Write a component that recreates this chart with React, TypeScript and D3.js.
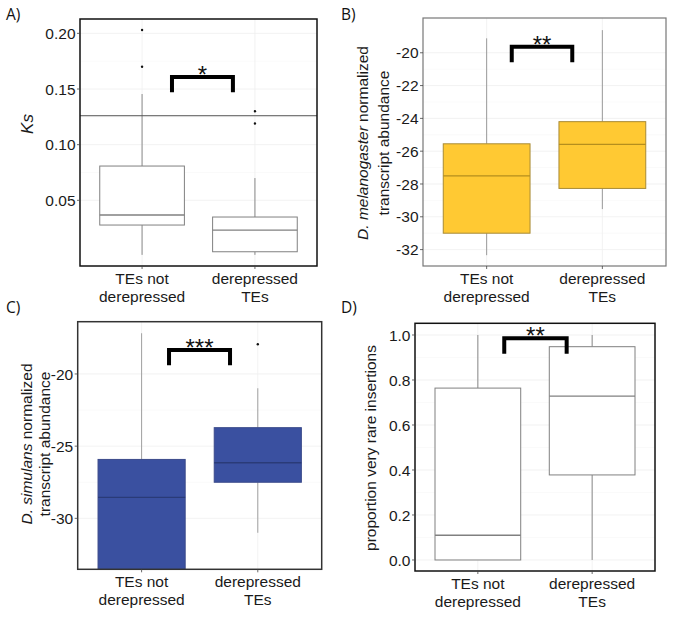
import React from "react";
import * as d3 from "d3";

// ---------- data ----------
const categories = [["TEs not", "derepressed"], ["derepressed", "TEs"]];

// [lowerWhisker, q1, median, q3, upperWhisker]
const ksStats = [
  [0.001, 0.0278, 0.0368, 0.0808, 0.1455],
  [0.001, 0.0038, 0.0233, 0.035, 0.07],
];
const ksOutliers = [[0.203, 0.17], [0.13, 0.119]];
const ksTicks = [0.05, 0.1, 0.15, 0.2];
const ksRefLine = 0.126;

const melStats = [
  [-32.34, -31.0, -27.5, -25.55, -19.12],
  [-29.53, -28.27, -25.59, -24.2, -18.62],
];
const melTicks = [-32, -30, -28, -26, -24, -22, -20];

const simStats = [
  [-36, -34.5, -28.55, -25.92, -17.18],
  [-31.0, -27.5, -26.15, -23.72, -20.99],
];
const simOutliers = [[], [-17.94]];
const simTicks = [-30, -25, -20];

const rareStats = [
  [0, 0, 0.11, 0.764, 1.0],
  [0, 0.378, 0.728, 0.948, 1.0],
];
const rareTicks = [0, 0.2, 0.4, 0.6, 0.8, 1.0];

// significance brackets: [x1, x2 (category units), top, legBottom]
const ksBracket = [1.265, 1.805, 0.1608, 0.149];
const melBracket = [1.217, 1.74, -19.63, -20.45];
const simBracket = [1.236, 1.761, -18.34, -19.26];
const rareBracket = [1.231, 1.777, 0.985, 0.926];

type PanelProps = {
  id: string;
  label: string;
  labelX: number;
  labelY: number;
  left: number;
  right: number;
  top: number;
  bottom: number;
  domain: [number, number];
  ticks: number[];
  tickFmt: (v: number) => string;
  stats: number[][];
  outliers?: number[][];
  refLine?: number;
  bracket: number[];
  stars: string;
  fill: string;
  stroke: string;
  medianStroke: string;
  whiskerStroke: string;
  frameStroke: string;
  frameWidth: number;
  titleLines: React.ReactNode[];
  titleX: number[];
  titleY: number;
};

const FONT = "'Liberation Sans', Arial, sans-serif";

function Panel(p: PanelProps) {
  const x = d3.scaleLinear().domain([0.45, 2.55]).range([p.left, p.right]);
  const y = d3.scaleLinear().domain(p.domain).range([p.bottom, p.top]);
  const bw = x(1.375) - x(1);
  const minorTicks = p.ticks.slice(0, -1).map((t, i) => (t + p.ticks[i + 1]) / 2);
  const clipId = "clip-" + p.id;
  return (
    <g>
      <text x={p.labelX} y={p.labelY} fontFamily="'Open Sans', sans-serif" fontSize={15.5} fill="#111">
        {p.label}
      </text>
      <defs>
        <clipPath id={clipId}>
          <rect x={p.left} y={p.top} width={p.right - p.left} height={p.bottom - p.top} />
        </clipPath>
      </defs>
      <g clipPath={`url(#${clipId})`}>
        {minorTicks.map((t, i) => (
          <line key={"mn" + i} x1={p.left} x2={p.right} y1={y(t)} y2={y(t)} stroke="#f6f6f6" strokeWidth={0.6} />
        ))}
        {p.ticks.map((t, i) => (
          <line key={"mj" + i} x1={p.left} x2={p.right} y1={y(t)} y2={y(t)} stroke="#efefef" strokeWidth={0.8} />
        ))}
        {[1, 2].map((c) => (
          <line key={"vx" + c} x1={x(c)} x2={x(c)} y1={p.top} y2={p.bottom} stroke="#efefef" strokeWidth={0.8} />
        ))}
        {p.stats.map((s, i) => {
          const cx = x(i + 1);
          const [lo, q1, med, q3, hi] = s;
          return (
            <g key={"b" + i}>
              <line x1={cx} x2={cx} y1={y(q3)} y2={y(hi)} stroke={p.whiskerStroke} strokeWidth={1} />
              <line x1={cx} x2={cx} y1={y(q1)} y2={y(lo)} stroke={p.whiskerStroke} strokeWidth={1} />
              <rect
                x={cx - bw}
                y={y(q3)}
                width={bw * 2}
                height={y(q1) - y(q3)}
                fill={p.fill}
                stroke={p.stroke}
                strokeWidth={1}
              />
              <line x1={cx - bw} x2={cx + bw} y1={y(med)} y2={y(med)} stroke={p.medianStroke} strokeWidth={1.3} />
              {(p.outliers?.[i] || []).map((o, j) => (
                <circle key={j} cx={cx} cy={y(o)} r={1.2} fill="#111" />
              ))}
            </g>
          );
        })}
        {p.refLine !== undefined && (
          <line x1={p.left} x2={p.right} y1={y(p.refLine)} y2={y(p.refLine)} stroke="#555" strokeWidth={1} />
        )}
      </g>
      {/* bracket */}
      <path
        d={`M${x(p.bracket[0])},${y(p.bracket[3])}V${y(p.bracket[2])}H${x(p.bracket[1])}V${y(p.bracket[3])}`}
        fill="none"
        stroke="#000"
        strokeWidth={4}
        strokeLinecap="square"
      />
      <text
        x={(x(p.bracket[0]) + x(p.bracket[1])) / 2}
        y={y(p.bracket[2]) + 6}
        textAnchor="middle"
        fontFamily={FONT}
        fontSize={24}
        fill="#111"
      >
        {p.stars}
      </text>
      {/* frame */}
      <rect
        x={p.left}
        y={p.top}
        width={p.right - p.left}
        height={p.bottom - p.top}
        fill="none"
        stroke={p.frameStroke}
        strokeWidth={p.frameWidth}
      />
      {/* y ticks */}
      {p.ticks.map((t, i) => (
        <g key={"yt" + i}>
          <line x1={p.left - 3} x2={p.left} y1={y(t)} y2={y(t)} stroke="#444" strokeWidth={0.8} />
          <text
            x={p.left - 4.5}
            y={y(t)}
            dy="0.36em"
            textAnchor="end"
            fontFamily={FONT}
            fontSize={15.5}
            fill="#1a1a1a"
          >
            {p.tickFmt(t)}
          </text>
        </g>
      ))}
      {/* x ticks */}
      {categories.map((lines, i) => (
        <g key={"xt" + i}>
          <line x1={x(i + 1)} x2={x(i + 1)} y1={p.bottom} y2={p.bottom + 3} stroke="#444" strokeWidth={0.8} />
          {lines.map((l, j) => (
            <text
              key={j}
              x={x(i + 1)}
              y={p.bottom + 17.5 + j * 18.4}
              textAnchor="middle"
              fontFamily={FONT}
              fontSize={15.5}
              fill="#1a1a1a"
            >
              {l}
            </text>
          ))}
        </g>
      ))}
      {/* y title */}
      {p.titleLines.map((tl, i) => (
        <text
          key={"tt" + i}
          transform={`translate(${p.titleX[i]},${p.titleY}) rotate(-90)`}
          dy="0.36em"
          textAnchor="middle"
          fontFamily={FONT}
          fontSize={15.5}
          fill="#1a1a1a"
        >
          {tl}
        </text>
      ))}
    </g>
  );
}

const fmt2 = d3.format(".2f");
const fmt1 = d3.format(".1f");
const fmt0 = (v: number) => String(v);

export default function App() {
  return (
    <svg width={683} height={632} style={{ position: "absolute", left: 0, top: 0, background: "#fff" }}>
      <rect width={683} height={632} fill="#fff" />
      <Panel
        id="a"
        label="A)"
        labelX={6}
        labelY={20}
        left={80}
        right={317}
        top={19}
        bottom={266}
        domain={[-0.009, 0.2129]}
        ticks={ksTicks}
        tickFmt={fmt2}
        stats={ksStats}
        outliers={ksOutliers}
        refLine={ksRefLine}
        bracket={ksBracket}
        stars="*"
        fill="#fff"
        stroke="#808080"
        medianStroke="#808080"
        whiskerStroke="#8a8a8a"
        frameStroke="#111"
        frameWidth={1.5}
        titleLines={[<tspan fontStyle="italic" fontSize={17}>Ks</tspan>]}
        titleX={[27.5]}
        titleY={124}
      />
      <Panel
        id="b"
        label="B)"
        labelX={341}
        labelY={20}
        left={423}
        right={666}
        top={18}
        bottom={266}
        domain={[-33.0, -17.88]}
        ticks={melTicks}
        tickFmt={fmt0}
        stats={melStats}
        bracket={melBracket}
        stars="**"
        fill="#FFC933"
        stroke="#A88A35"
        medianStroke="#B58E1E"
        whiskerStroke="#9a9a9a"
        frameStroke="#777"
        frameWidth={1.2}
        titleLines={[
          <>
            <tspan fontStyle="italic">D. melanogaster</tspan> normalized
          </>,
          "transcript abundance",
        ]}
        titleX={[362.5, 383]}
        titleY={143}
      />
      <Panel
        id="c"
        label="C)"
        labelX={6}
        labelY={313}
        left={77.7}
        right={321.7}
        top={321.7}
        bottom={569.3}
        domain={[-33.53, -16.38]}
        ticks={simTicks}
        tickFmt={fmt0}
        stats={simStats}
        outliers={simOutliers}
        bracket={simBracket}
        stars="***"
        fill="#3A50A0"
        stroke="#3A4A8A"
        medianStroke="#2A3B78"
        whiskerStroke="#a0a0a0"
        frameStroke="#333"
        frameWidth={1.5}
        titleLines={[
          <>
            <tspan fontStyle="italic">D. simulans</tspan> normalized
          </>,
          "transcript abundance",
        ]}
        titleX={[26, 44.5]}
        titleY={444}
      />
      <Panel
        id="d"
        label="D)"
        labelX={341}
        labelY={313}
        left={415}
        right={655}
        top={323.3}
        bottom={571}
        domain={[-0.049, 1.052]}
        ticks={rareTicks}
        tickFmt={fmt1}
        stats={rareStats}
        bracket={rareBracket}
        stars="**"
        fill="#fff"
        stroke="#808080"
        medianStroke="#808080"
        whiskerStroke="#8a8a8a"
        frameStroke="#111"
        frameWidth={1.5}
        titleLines={["proportion very rare insertions"]}
        titleX={[370]}
        titleY={448}
      />
    </svg>
  );
}
